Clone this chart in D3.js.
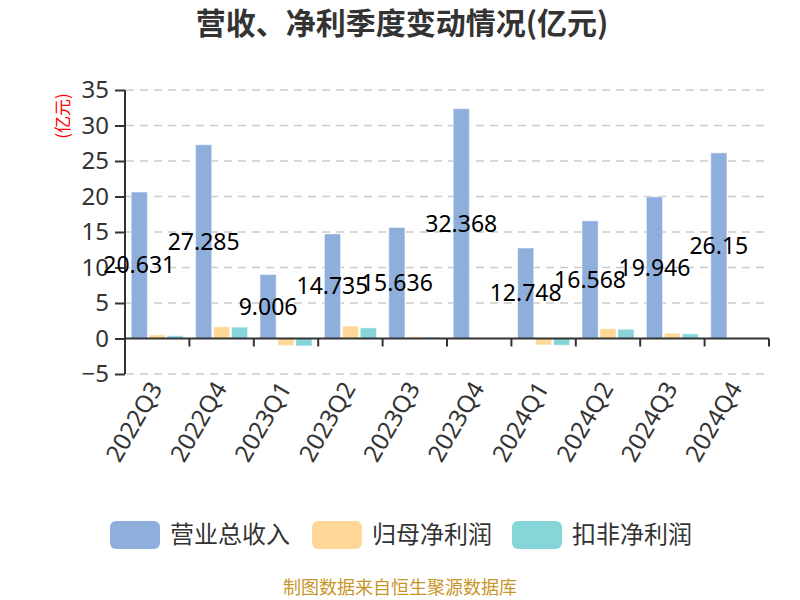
<!DOCTYPE html>
<html><head><meta charset="utf-8">
<script src="https://cdn.jsdelivr.net/npm/d3@7"></script>
<style>body{margin:0;background:#fff}svg{display:block;font-family:"Noto Sans CJK SC","Noto Sans",sans-serif}</style>
</head><body><svg id="c" width="800" height="600"></svg>
<script>
const categories = ["2022Q3","2022Q4","2023Q1","2023Q2","2023Q3","2023Q4","2024Q1","2024Q2","2024Q3","2024Q4"];
const seriesNames = ["营业总收入","归母净利润","扣非净利润"];
const revenue = [20.631,27.285,9.006,14.735,15.636,32.368,12.748,16.568,19.946,26.15];
const netProfit = [0.5,1.65,-1.0,1.75,0.25,0.08,-0.9,1.37,0.75,0.08];
const netProfitDeducted = [0.38,1.6,-1.05,1.5,0.2,0.05,-0.95,1.3,0.65,0.05];
const yTicks = [-5,0,5,10,15,20,25,30,35];
const colors = ["#8EAEDB","#FFD897","#86D5D8"];
const title = "营收、净利季度变动情况(亿元)";
const unit = "(亿元)";
const footer = "制图数据来自恒生聚源数据库";

const svg = d3.select("#c");
const x0 = 125, x1 = 769, yTop = 90, yBot = 374;
const x = d3.scaleBand().domain(categories).range([x0, x1]).padding(0);
const xs = d3.scaleBand().domain(seriesNames).range([-26, 26]).paddingInner(0.1);
const y = d3.scaleLinear().domain([-5, 35]).range([yBot, yTop]);
const series = [revenue, netProfit, netProfitDeducted];

// title
svg.append("text").attr("x", 402).attr("y", 34).attr("text-anchor","middle")
  .attr("font-size", 30).attr("font-weight","bold").attr("fill","#333").text(title);

// grid
svg.append("g").selectAll("line").data(yTicks.filter(t=>t!==0)).join("line")
  .attr("x1", x0+1).attr("x2", x1).attr("y1", d=>y(d)).attr("y2", d=>y(d))
  .attr("stroke","#ccc").attr("stroke-width",1.5).attr("stroke-dasharray","8,6");

// y axis
const ya = svg.append("g").attr("transform",`translate(${x0},0)`)
  .call(d3.axisLeft(y).tickValues(yTicks).tickSize(10).tickPadding(6).tickFormat(d3.format("d")));
ya.select(".domain").attr("stroke","#333").attr("stroke-width",2).attr("d",`M0,${yTop}V${yBot}`);
ya.selectAll(".tick line").attr("stroke","#333").attr("stroke-width",2);
ya.selectAll(".tick text").attr("font-size",24).attr("fill","#333").attr("font-family","Noto Sans, sans-serif");

svg.append("text").attr("transform",`translate(69,116) rotate(-90)`).attr("text-anchor","middle")
  .attr("font-size",17).attr("fill","#f00").text(unit);

// bars
const g = svg.append("g");
series.forEach((vals, si) => {
  g.selectAll(null).data(vals).join("rect")
    .attr("x",(d,i)=>x(categories[i]) + x.bandwidth()/2 + xs(seriesNames[si]))
    .attr("width", xs.bandwidth())
    .attr("y", d=>Math.min(y(d), y(0)))
    .attr("height", d=>Math.abs(y(d)-y(0)))
    .attr("fill", colors[si]).attr("stroke","#fff").attr("stroke-opacity",0.5).attr("stroke-width",1);
});

// x axis at zero
const xa = svg.append("g").attr("transform",`translate(0,${y(0)})`);
xa.append("line").attr("x1",x0).attr("x2",x1).attr("stroke","#333").attr("stroke-width",2);
xa.selectAll(".tk").data(categories).join("line").attr("class","tk")
  .attr("x1",d=>x(d)+x.bandwidth()).attr("x2",d=>x(d)+x.bandwidth())
  .attr("y1",0).attr("y2",8).attr("stroke","#333").attr("stroke-width",2);

// x labels
svg.append("g").selectAll("text").data(categories).join("text")
  .attr("transform",d=>`translate(${x(d)+x.bandwidth()/2+6},${yBot+14}) rotate(-60)`)
  .attr("text-anchor","end").attr("font-size",24).attr("fill","#333")
  .attr("font-family","Noto Sans, sans-serif").text(d=>d);

// value labels for revenue
svg.append("g").selectAll("text").data(revenue).join("text")
  .attr("x",(d,i)=>x(categories[i]) + x.bandwidth()/2 + xs(seriesNames[0]) + xs.bandwidth()/2)
  .attr("y",d=>y(d/2)).attr("dy","0.35em").attr("text-anchor","middle")
  .attr("font-size",23).attr("fill","#000").attr("font-family","Noto Sans, sans-serif")
  .text(d=>String(d));

// legend
const legX = [110, 312, 512];
const lg = svg.append("g");
seriesNames.forEach((n,i)=>{
  lg.append("rect").attr("x",legX[i]).attr("y",521).attr("width",50).attr("height",28).attr("rx",6)
    .attr("fill",colors[i]);
  lg.append("text").attr("x",legX[i]+60).attr("y",535).attr("dy","0.35em")
    .attr("font-size",24).attr("fill","#333").text(n);
});

svg.append("text").attr("x",400).attr("y",588).attr("dy","0.35em").attr("text-anchor","middle")
  .attr("font-size",18).attr("fill","#C8952A").text(footer);
</script></body></html>
